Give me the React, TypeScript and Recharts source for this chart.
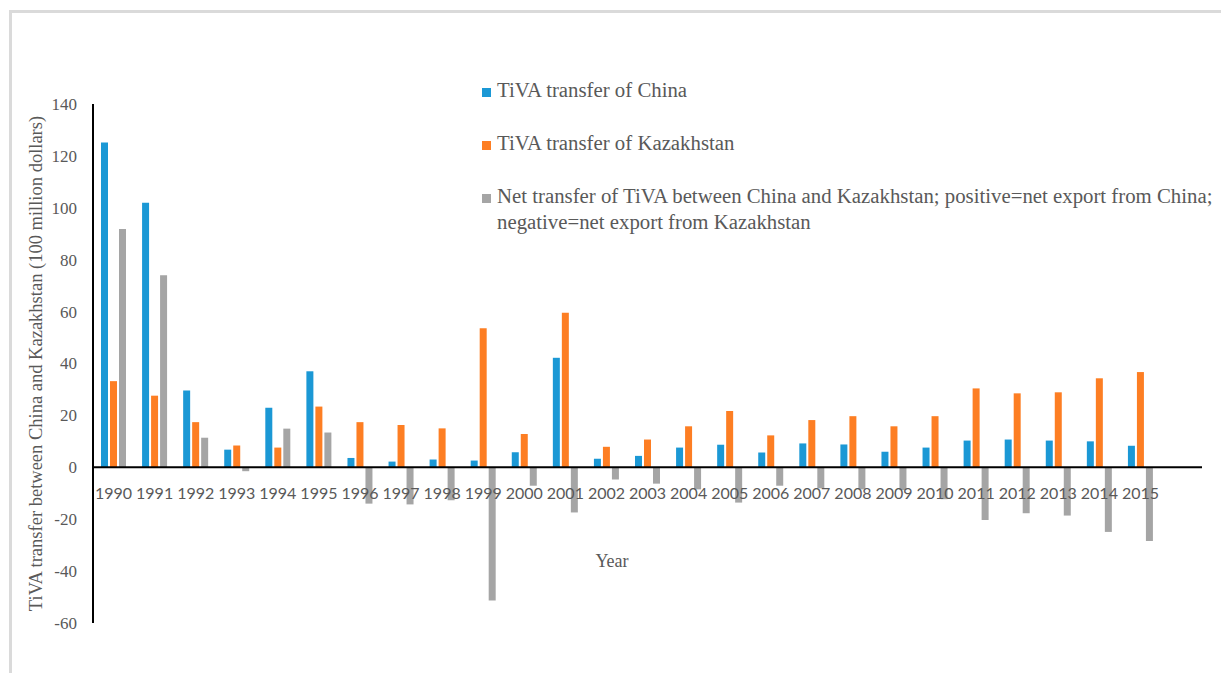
import React from 'react';
import {
  BarChart,
  Bar,
  XAxis,
  YAxis,
  Legend,
  Label,
  ReferenceLine,
} from 'recharts';

const years = [
  '1990', '1991', '1992', '1993', '1994', '1995', '1996', '1997', '1998',
  '1999', '2000', '2001', '2002', '2003', '2004', '2005', '2006', '2007',
  '2008', '2009', '2010', '2011', '2012', '2013', '2014', '2015',
];
const chinaTiva = [
  125.2, 101.9, 29.6, 6.8, 22.9, 37.0, 3.6, 2.2, 3.0, 2.6, 5.8, 42.2, 3.3,
  4.4, 7.6, 8.7, 5.7, 9.2, 8.8, 6.0, 7.6, 10.3, 10.7, 10.3, 10.0, 8.3,
];
const kazTiva = [
  33.2, 27.6, 17.4, 8.4, 7.6, 23.4, 17.4, 16.3, 15.0, 53.6, 12.8, 59.6, 7.9,
  10.7, 15.8, 21.7, 12.3, 18.2, 19.7, 15.8, 19.7, 30.4, 28.5, 28.9, 34.3, 36.7,
];
const netTiva = [
  91.8, 74.0, 11.4, -1.5, 14.9, 13.4, -14.0, -14.3, -12.7, -51.3, -7.1, -17.4,
  -4.7, -6.3, -8.5, -13.6, -7.1, -8.1, -8.5, -8.8, -12.3, -20.3, -17.7, -18.6,
  -24.9, -28.4,
];
const yTicks = [-60, -40, -20, 0, 20, 40, 60, 80, 100, 120, 140];

const seriesKeys = ['china', 'kaz', 'net'];
const seriesNames = [
  'TiVA transfer of China',
  'TiVA transfer of Kazakhstan',
  'Net transfer of TiVA between China and Kazakhstan; positive=net export from China; negative=net export from Kazakhstan',
];

const data = years.map((year, i) => ({
  year,
  china: chinaTiva[i],
  kaz: kazTiva[i],
  net: netTiva[i],
}));

const CHART_W = 1217;
const CHART_H = 660;
const MARGIN = { top: 91, right: 27, bottom: 20, left: 0 };
const X_AXIS_H = 30;
const PLOT_H = CHART_H - MARGIN.top - MARGIN.bottom - X_AXIS_H;
const Y_MIN = -60;
const Y_MAX = 140;

const SERIF = '"Liberation Serif", serif';
const TEXT_GRAY = '#595959';

// year labels sit just under the zero line, not at the bottom of the plot
function YearTick(props: any) {
  const { x, y, payload } = props;
  const zeroY = y - (PLOT_H * (0 - Y_MIN)) / (Y_MAX - Y_MIN);
  return (
    <text
      x={x}
      y={zeroY + 26}
      dy="0.35em"
      textAnchor="middle"
      fill={TEXT_GRAY}
      style={{ fontFamily: 'Lato, sans-serif', fontSize: 16 }}
    >
      {payload.value}
    </text>
  );
}

function ValueTick(props: any) {
  const { x, y, payload } = props;
  return (
    <text
      x={x}
      y={y}
      dy="0.35em"
      textAnchor="end"
      fill={TEXT_GRAY}
      style={{ fontFamily: SERIF, fontSize: 17 }}
    >
      {payload.value}
    </text>
  );
}

function LegendBox(props: any) {
  const items = [...(props.payload || [])].sort(
    (a: any, b: any) => seriesKeys.indexOf(a.dataKey) - seriesKeys.indexOf(b.dataKey)
  );
  return (
    <div style={{ fontFamily: SERIF, fontSize: 20.8, color: TEXT_GRAY, lineHeight: '26px' }}>
      {items.map((entry: any) => (
        <div key={entry.dataKey} style={{ display: 'flex', alignItems: 'flex-start', marginBottom: 27 }}>
          <span
            style={{
              display: 'inline-block',
              width: 9,
              height: 9,
              background: entry.color,
              marginTop: 11,
              marginRight: 6,
              flex: 'none',
            }}
          />
          <span style={{ width: 730 }}>{entry.value}</span>
        </div>
      ))}
    </div>
  );
}

export default function App() {
  return (
    <div
      style={{
        marginLeft: 1,
        marginTop: 2,
        borderLeft: '3px solid #dadada',
        borderTop: '3px solid #dadada',
        width: CHART_W,
        height: CHART_H,
        background: '#fff',
      }}
    >
      <BarChart
        width={CHART_W}
        height={CHART_H}
        data={data}
        margin={MARGIN}
        barSize={7}
        barGap={2}
      >
        <XAxis
          dataKey="year"
          height={X_AXIS_H}
          axisLine={false}
          tickLine={false}
          tickSize={0}
          tickMargin={0}
          interval={0}
          padding={{ left: 0, right: 41 }}
          tick={<YearTick />}
        >
          <Label
            content={(p: any) => {
              const vb = p.viewBox;
              return (
                <text
                  x={600}
                  y={vb.y - 62}
                  dy="0.35em"
                  textAnchor="middle"
                  fill={TEXT_GRAY}
                  style={{ fontFamily: SERIF, fontSize: 18 }}
                >
                  Year
                </text>
              );
            }}
          />
        </XAxis>
        <YAxis
          width={81}
          domain={[Y_MIN, Y_MAX]}
          ticks={yTicks}
          interval={0}
          axisLine={{ stroke: '#000', strokeWidth: 2 }}
          tickLine={false}
          tickSize={0}
          tickMargin={16}
          tick={<ValueTick />}
        >
          <Label
            content={(p: any) => {
              const vb = p.viewBox;
              const cx = 24;
              const cy = vb.y + vb.height / 2;
              return (
                <text
                  x={cx}
                  y={cy}
                  dy="0.35em"
                  textAnchor="middle"
                  transform={`rotate(-90, ${cx}, ${cy})`}
                  fill={TEXT_GRAY}
                  style={{ fontFamily: SERIF, fontSize: 18.5 }}
                >
                  TiVA transfer between China and Kazakhstan (100 million dollars)
                </text>
              );
            }}
          />
        </YAxis>
        <Legend
          layout="horizontal"
          verticalAlign="middle"
          align="center"
          content={<LegendBox />}
          wrapperStyle={{ left: 470, top: 64, width: 750 }}
        />
        <Bar dataKey="china" name={seriesNames[0]} fill="#1b98d5" isAnimationActive={false} />
        <Bar dataKey="kaz" name={seriesNames[1]} fill="#fd7e23" isAnimationActive={false} />
        <Bar dataKey="net" name={seriesNames[2]} fill="#a5a5a5" isAnimationActive={false} />
        <ReferenceLine y={0} stroke="#000" strokeWidth={2} />
      </BarChart>
    </div>
  );
}
